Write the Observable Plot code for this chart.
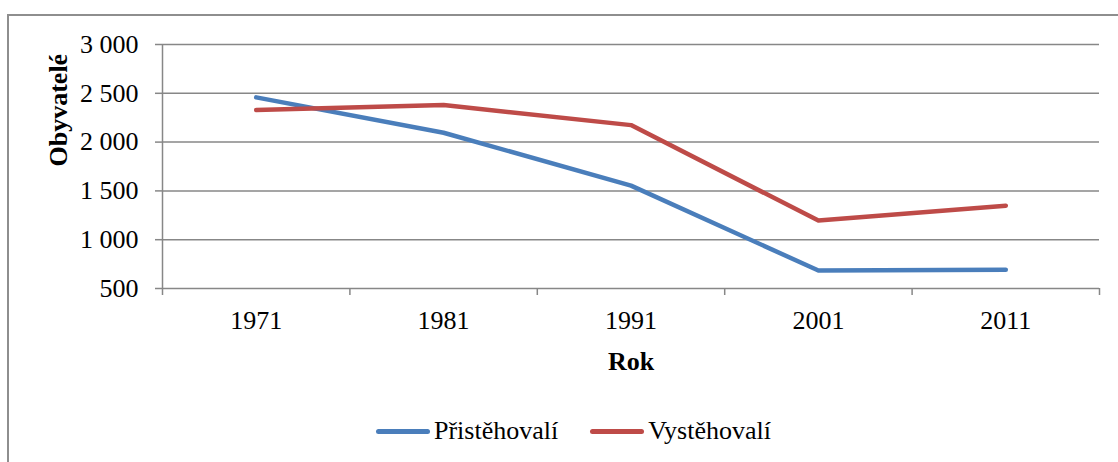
<!DOCTYPE html>
<html>
<head>
<meta charset="utf-8">
<script src="https://cdn.jsdelivr.net/npm/d3@7"></script>
<script src="https://cdn.jsdelivr.net/npm/@observablehq/plot@0.6"></script>
<style>
  html, body { margin: 0; padding: 0; background: #fff; width: 1118px; height: 462px; overflow: hidden; }
  #chart { position: absolute; left: 7px; top: 14px; width: 1130px; height: 460px;
           border-left: 2px solid #8e8e8e; border-top: 2px solid #8e8e8e; }
  #plot { position: absolute; left: 0; top: 0; }
  #legend { position: absolute; left: 0; top: 400px; width: 1129px; display: flex; justify-content: center;
            font-family: "Liberation Serif", "Times New Roman", serif; font-size: 26px; color: #000; }
  .item { display: flex; align-items: center; margin: 0 16px; }
  .sw { width: 54px; height: 5px; border-radius: 3px; margin-right: 4px; }
</style>
</head>
<body>
<div id="chart"><div id="plot"></div><div id="legend"></div></div>
<script>
const years = [1971, 1981, 1991, 2001, 2011];
const seriesNames = ["Přistěhovalí", "Vystěhovalí"];
const pristehovali = [2458, 2096, 1554, 684, 691];
const vystehovali = [2328, 2379, 2174, 1196, 1349];
const seriesColors = ["#4a7ebb", "#be4b48"];
const yTicks = [500, 1000, 1500, 2000, 2500, 3000];
const xLabel = "Rok";
const yLabel = "Obyvatelé";

const seriesValues = [pristehovali, vystehovali];
const rows = [];
seriesNames.forEach((s, i) => years.forEach((yr, j) => rows.push({series: s, year: yr, value: seriesValues[i][j]})));

// category boundaries (Excel-style ticks between categories)
const step = years[1] - years[0];
const bounds = years.map(y => y - step / 2).concat([years[years.length - 1] + step / 2]);

const fmt = d => d3.format(",")(d).replace(/,/g, " ");
const font = '"Liberation Serif", "Times New Roman", serif';

const chart = Plot.plot({
  width: 1108,
  height: 380,
  marginLeft: 153,
  marginRight: 18,
  marginTop: 28,
  marginBottom: 108,
  style: {fontFamily: font, fontSize: "26px", color: "#000", background: "transparent", overflow: "visible"},
  x: {type: "linear", domain: [bounds[0], bounds[bounds.length - 1]]},
  y: {domain: [yTicks[0], yTicks[yTicks.length - 1]]},
  color: {domain: seriesNames, range: seriesColors},
  marks: [
    Plot.gridY(yTicks, {stroke: "#878787", strokeOpacity: 1, strokeWidth: 1.5}),
    Plot.ruleX([bounds[0]], {stroke: "#878787", strokeWidth: 1.5}),
    Plot.axisY({ticks: yTicks, tickSize: 7, tickPadding: 17, tickFormat: fmt, stroke: "#878787", fill: "#000", strokeWidth: 1.5, label: null, fontSize: 26}),
    Plot.axisX({ticks: bounds, tickSize: 7, tickFormat: () => "", stroke: "#878787", strokeWidth: 1.5, label: null}),
    Plot.axisX({ticks: years, tickSize: 0, tickPadding: 22, tickFormat: d => String(d), fill: "#000", label: null, fontSize: 26}),
    Plot.line(rows, {x: "year", y: "value", z: "series", stroke: "series", strokeWidth: 4.5, strokeLinecap: "round", strokeLinejoin: "round"}),
    Plot.text([xLabel], {text: d => d, frameAnchor: "bottom", dy: 73, fontWeight: "bold", fontSize: 26, lineAnchor: "middle", fill: "#000"}),
    Plot.text([yLabel], {text: d => d, frameAnchor: "left", dx: -104, rotate: -90, fontWeight: "bold", fontSize: 26, lineAnchor: "middle", fill: "#000"})
  ]
});
document.getElementById("plot").appendChild(chart);

const legend = document.getElementById("legend");
seriesNames.forEach((s, i) => {
  const it = document.createElement("div");
  it.className = "item";
  const sw = document.createElement("div");
  sw.className = "sw";
  sw.style.background = seriesColors[i];
  const t = document.createElement("span");
  t.textContent = s;
  it.appendChild(sw); it.appendChild(t);
  legend.appendChild(it);
});
</script>
</body>
</html>
